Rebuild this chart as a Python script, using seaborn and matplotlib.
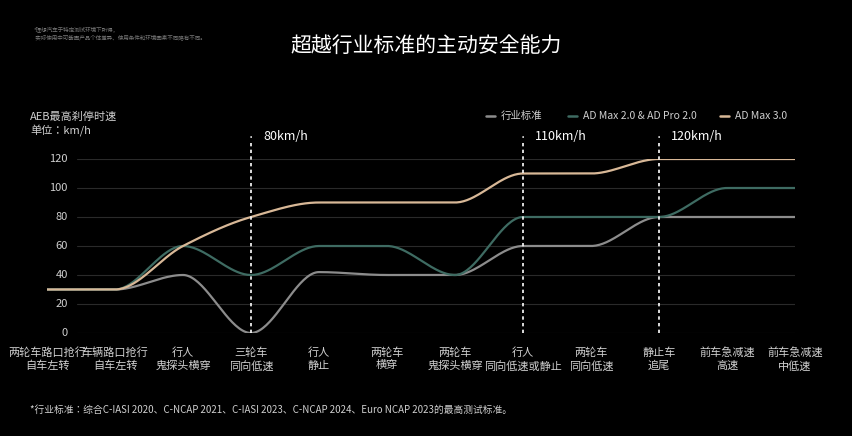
import numpy as np
import pandas as pd
import seaborn as sns
import matplotlib.pyplot as plt
import matplotlib.transforms as mtrans

categories = ['两轮车路口抢行\n自车左转', '车辆路口抢行\n自车左转', '行人\n鬼探头横穿', '三轮车\n同向低速',
              '行人\n静止', '两轮车\n横穿', '两轮车\n鬼探头横穿', '行人\n同向低速或静止',
              '两轮车\n同向低速', '静止车\n追尾', '前车急减速\n高速', '前车急减速\n中低速']
industry = [30, 30, 40, 0, 42, 40, 40, 60, 60, 80, 80, 80]
admax2 = [30, 30, 60, 40, 60, 60, 40, 80, 80, 80, 100, 100]
admax3 = [30, 30, 60, 80, 90, 90, 90, 110, 110, 120, 120, 120]
series_names = ['行业标准', 'AD Max 2.0 & AD Pro 2.0', 'AD Max 3.0']
colors = ['#8c8c8c', '#3e6b62', '#d8b897']
yticks = [0, 20, 40, 60, 80, 100, 120]
markers = {3: '80km/h', 7: '110km/h', 9: '120km/h'}


def pchip(y, n=40):
    # monotone cubic (Fritsch-Carlson) for smooth drawing only
    y = np.asarray(y, float)
    x = np.arange(len(y), dtype=float)
    d = np.diff(y)
    m = np.zeros_like(y)
    m[0], m[-1] = d[0], d[-1]
    for i in range(1, len(y) - 1):
        if d[i - 1] * d[i] > 0:
            m[i] = 2 / (1 / d[i - 1] + 1 / d[i])
    xs, ys = [], []
    for i in range(len(y) - 1):
        t = np.linspace(0, 1, n, endpoint=False)
        h00 = 2 * t**3 - 3 * t**2 + 1
        h10 = t**3 - 2 * t**2 + t
        h01 = -2 * t**3 + 3 * t**2
        h11 = t**3 - t**2
        xs.append(x[i] + t)
        ys.append(h00 * y[i] + h10 * m[i] + h01 * y[i + 1] + h11 * m[i + 1])
    xs.append([x[-1]])
    ys.append([y[-1]])
    return np.concatenate(xs), np.concatenate(ys)


frames = []
for name, vals in zip(series_names, [industry, admax2, admax3]):
    xs, ys = pchip(vals)
    frames.append(pd.DataFrame({'x': xs, 'y': ys, 's': name}))
df = pd.concat(frames)

sns.set_style('dark', {'axes.facecolor': 'black', 'figure.facecolor': 'black'})
plt.rcParams['font.family'] = 'sans-serif'
plt.rcParams['font.sans-serif'] = ['Noto Sans CJK SC', 'Noto Sans CJK JP', 'DejaVu Sans']
fig = plt.figure(figsize=(8.52, 4.36), dpi=100, facecolor='black')
ax = fig.add_axes([47 / 852, 1 - 333 / 436, (795 - 47) / 852, (333 - 159) / 436])
ax.set_facecolor('black')
for yv in yticks:
    ax.axhline(yv, xmin=0.04, xmax=1, color='#2a2a2a', lw=0.8, zorder=0)
sns.lineplot(data=df, x='x', y='y', hue='s', palette=colors, lw=1.6, ax=ax,
             legend=False, sort=False, estimator=None)
for xi, lab in markers.items():
    ax.plot([xi, xi], [0, 133], ls=(0, (2, 2)), color='white', lw=1.2, clip_on=False)
    ax.text(xi, 135, '•', color='white', ha='center', va='center', fontsize=5)
    ax.text(xi + 0.18, 131, lab, color='white', fontsize=9, va='bottom')
ax.set_xlim(0, 11)
ax.set_ylim(0, 120)
ax.set_xticks([])
ax.set_yticks([])
ax.set_xlabel('')
ax.set_ylabel('')
for sp in ax.spines.values():
    sp.set_visible(False)
tr = mtrans.blended_transform_factory(ax.transAxes, ax.transData)
for yv in yticks:
    ax.text(0.028, yv, str(yv), transform=tr, ha='right', va='center', color='#cfcfcf', fontsize=8)
for i, c in enumerate(categories):
    ax.text(i, -10, c, ha='center', va='top', color='#d0d0d0', fontsize=8, linespacing=1.3)

fig.text(0.5, 0.895, '超越行业标准的主动安全能力', ha='center', va='center', color='white', fontsize=15)
fig.text(0.04, 0.925, '*理想汽车于特定测试环境下所得，\n 实际使用中可能因产品个体差异、使用条件和环境因素不同略有不同。',
         color='#777777', fontsize=4, va='center', linespacing=1.5)
fig.text(30 / 852, 1 - 117 / 436, 'AEB最高刹停时速', color='#cfcfcf', fontsize=8, va='center')
fig.text(30 / 852, 1 - 131 / 436, '单位：km/h', color='#cfcfcf', fontsize=8, va='center')
lx = [486, 568, 720]
for x0, name, c in zip(lx, series_names, colors):
    fig.lines.append(plt.Line2D([x0 / 852, (x0 + 9) / 852], [1 - 116 / 436] * 2, color=c, lw=1.8,
                                transform=fig.transFigure))
    fig.text((x0 + 15) / 852, 1 - 116 / 436, name, color='#cfcfcf', fontsize=7.5, va='center')
fig.text(30 / 852, 1 - 410 / 436,
         '*行业标准：综合C-IASI 2020、C-NCAP 2021、C-IASI 2023、C-NCAP 2024、Euro NCAP 2023的最高测试标准。',
         color='#cfcfcf', fontsize=7, va='center')

fig.savefig('out.png', dpi=100, facecolor='black')
